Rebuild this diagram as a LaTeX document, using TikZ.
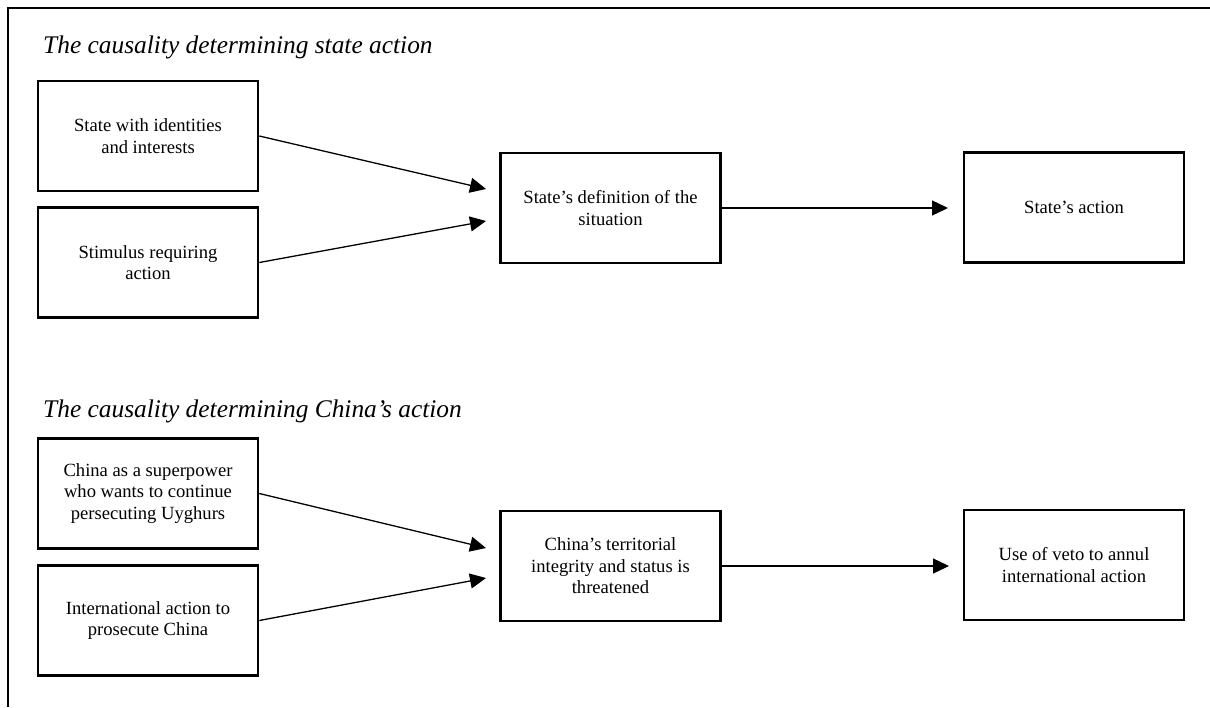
\documentclass[tikz,border=0pt]{standalone}
\usepackage{fontspec}
\setmainfont{Liberation Serif}
\usetikzlibrary{arrows.meta}
\begin{document}
\begin{tikzpicture}[x=1pt,y=-1pt,
  box/.style={draw, line width=2.6pt, minimum width=220pt, minimum height=110pt,
    inner sep=0pt, align=center, font=\fontsize{18.6}{21.6}\selectfont},
  conn/.style={line width=1.3pt, -{Triangle[length=16pt,width=15pt]}},
  ttl/.style={anchor=base west, inner sep=0pt, font=\fontsize{25.4}{30}\selectfont\itshape},
  frame/.style={line width=1.8pt}]
\useasboundingbox (0,0) rectangle (1210,707);
\draw[frame] (8,707) -- (8,8) -- (1210,8);

\node[ttl] (t1) at (43,53) {The causality determining state action};
\node[ttl] (t2) at (43,417) {The causality determining China’s action};

\node[box] (a1) at (148,136) {State with identities\\and interests};
\node[box] (a2) at (148,262.5) {Stimulus requiring\\action};
\node[box] (a3) at (610.5,208) {State’s definition of the\\situation};
\node[box] (a4) at (1074,207.5) {State’s action};

\node[box] (b1) at (148,493.5) {China as a superpower\\who wants to continue\\persecuting Uyghurs};
\node[box] (b2) at (148,620.5) {International action to\\prosecute China};
\node[box] (b3) at (610.5,566) {China’s territorial\\integrity and status is\\threatened};
\node[box] (b4) at (1074,565) {Use of veto to annul\\international action};

\coordinate (ta1) at (486,189);
\coordinate (ta2) at (486,221);
\coordinate (ta3) at (948,208);
\coordinate (tb1) at (486,548);
\coordinate (tb2) at (486,578);
\coordinate (tb3) at (949,566);

\draw[conn] (a1.east) -- (ta1);
\draw[conn] (a2.east) -- (ta2);
\draw[conn] (a3.east) -- (ta3);
\draw[conn] (b1.east) -- (tb1);
\draw[conn] (b2.east) -- (tb2);
\draw[conn] (b3.east) -- (tb3);
\end{tikzpicture}
\end{document}
